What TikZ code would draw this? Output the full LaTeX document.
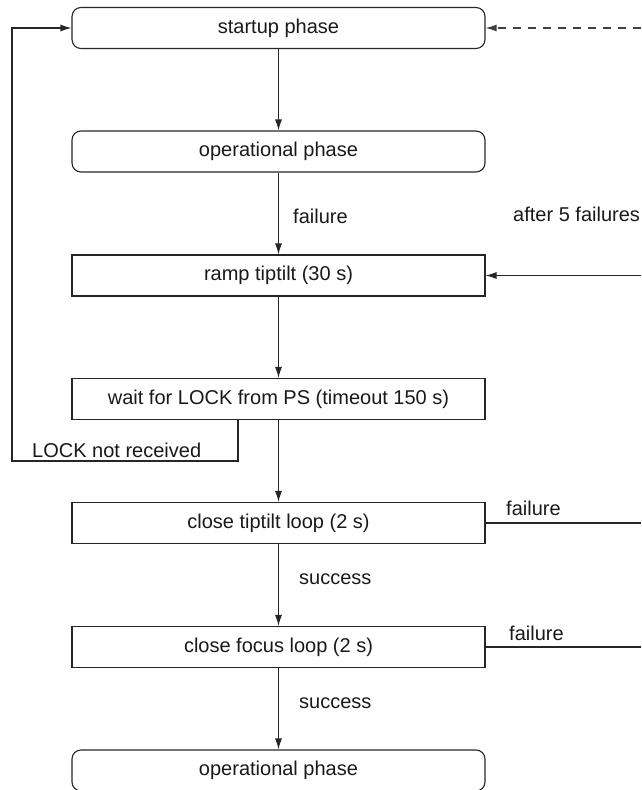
\documentclass[tikz,border=0pt]{standalone}
\usepackage{fontspec}
\setmainfont{Liberation Sans}
\usetikzlibrary{arrows.meta}
\begin{document}
\begin{tikzpicture}[x=1pt,y=-1pt,
  every node/.style={font=\fontsize{20}{24}\selectfont, text=black!90},
  phasebox/.style={draw=black!85, line width=1.1pt, rounded corners=9pt, minimum width=413pt, minimum height=41pt, inner sep=0pt},
  stepbox/.style={draw=black!85, line width=1.1pt, minimum width=413pt, minimum height=41pt, inner sep=0pt},
  lbl/.style={anchor=west, inner sep=0pt},
  conn/.style={draw=black!85, line width=1.1pt},
  arr/.style={conn, -{Latex[length=11pt,width=7pt]}},
  dasharr/.style={draw=black!75, line width=1.2pt, dash pattern=on 8pt off 7pt, -{Latex[length=11pt,width=7pt]}}
]
\useasboundingbox (0,0) rectangle (641,790);
\node[phasebox] (start) at (278.5,28) {startup phase};
\node[phasebox] (op1) at (278.5,151.5) {operational phase};
\node[stepbox] (ramp) at (278.5,275.5) {ramp tiptilt (30 s)};
\node[stepbox] (wait) at (278.5,399) {wait for LOCK from PS (timeout 150 s)};
\node[stepbox] (tt) at (278.5,523) {close tiptilt loop (2 s)};
\node[stepbox] (focus) at (278.5,647) {close focus loop (2 s)};
\node[phasebox] (op2) at (278.5,770.5) {operational phase};

\coordinate (eStart) at (641,28);
\coordinate (eRamp) at (641,275.5);
\coordinate (eTT) at (641,523);
\coordinate (eFocus) at (641,647);
\coordinate (lockA) at (238,461);
\coordinate (lockB) at (12,461);
\coordinate (lockC) at (12,28);

\draw[arr] (start) -- (op1);
\draw[arr] (op1) -- (ramp);
\draw[arr] (ramp) -- (wait);
\draw[arr] (wait) -- (tt);
\draw[arr] (tt) -- (focus);
\draw[arr] (focus) -- (op2);

\draw[dasharr] (eStart) -- (start.east);
\draw[arr] (eRamp) -- (ramp.east);
\draw[conn] (tt.east) -- (eTT);
\draw[conn] (focus.east) -- (eFocus);
\draw[arr] (wait.south -| lockA) -- (lockA) -- (lockB) -- (lockC) -- (start.west);

\node[lbl] (l1) at (293,216) {failure};
\node[lbl] (l2) at (513,214) {after 5 failures};
\node[lbl] (l3) at (32,450) {LOCK not received};
\node[lbl] (l4) at (506,508) {failure};
\node[lbl] (l5) at (299,579) {success};
\node[lbl] (l6) at (509,633) {failure};
\node[lbl] (l7) at (299,703) {success};
\end{tikzpicture}
\end{document}
